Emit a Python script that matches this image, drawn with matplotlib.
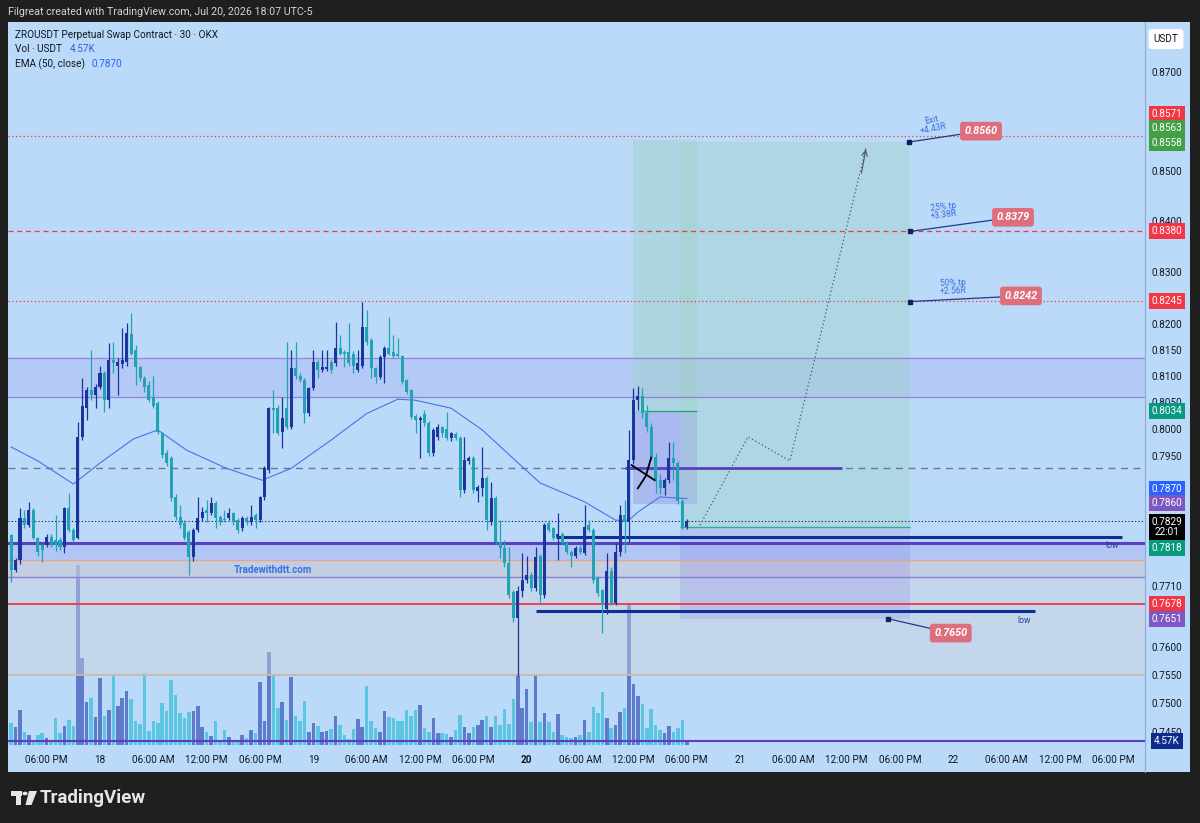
import numpy as np
import pandas as pd
import matplotlib
matplotlib.use("Agg")
import matplotlib.pyplot as plt
from matplotlib.patches import Rectangle, Polygon, Circle
from matplotlib.lines import Line2D
from matplotlib.transforms import blended_transform_factory

plt.rcParams['font.family'] = ['Roboto', 'DejaVu Sans']

# ---------------- data ----------------
times = pd.date_range('2026-07-17 14:00', periods=153, freq='30min')
hours = np.asarray((times - pd.Timestamp('2026-07-18 00:00')) / pd.Timedelta(hours=1))

opens = [
    .7802, .7739, .7757, .7835, .7822, .7849, .7797, .7784, .7784, .7800,
    .7794, .7794, .7780, .7852, .7812, .7797, .7985, .8040, .8073, .8064,
    .8079, .8105, .8054, .8130, .8120, .8122, .8126, .8180, .8150, .8118,
    .8096, .8083, .8060, .8048, .7992, .7955, .7946, .7873, .7836, .7824,
    .7808, .7762, .7812, .7834, .7849, .7843, .7861, .7836, .7832, .7834,
    .7843, .7830, .7815, .7834, .7826, .7839, .7830, .7873, .7923, .8039,
    .8040, .7994, .8039, .8004, .8115, .8101, .8092, .8030, .8077, .8126,
    .8111, .8113, .8126, .8124, .8153, .8145, .8145, .8143, .8111, .8120,
    .8194, .8169, .8115, .8098, .8136, .8153, .8145, .8143, .8139, .8092,
    .8073, .8024, .8017, .8028, .8011, .7955, .7985, .8004, .8000, .7983,
    .7990, .7983, .7886, .7940, .7946, .7884, .7890, .7908, .7826, .7871,
    .7790, .7779, .7751, .7699, .7652, .7700, .7721, .7730, .7706, .7764,
    .7693, .7824, .7815, .7800, .7804, .7789, .7772, .7764, .7779, .7770,
    .7821, .7812, .7724, .7702, .7668, .7737, .7680, .7771, .7839, .7826,
    .7942, .8054, .8062, .8030, .8004, .7948, .7904, .7890, .7904, .7946,
    .7936, .7865, .7818]
highs = [
    .7805, .7760, .7852, .7849, .7863, .7852, .7800, .7786, .7805, .7805,
    .7839, .7800, .7855, .7880, .7815, .8013, .8096, .8080, .8149, .8085,
    .8120, .8110, .8163, .8165, .8135, .8192, .8201, .8220, .8160, .8120,
    .8100, .8090, .8101, .8052, .7995, .7960, .7950, .7878, .7858, .7830,
    .7812, .7815, .7873, .7855, .7867, .7873, .7865, .7840, .7849, .7852,
    .7846, .7834, .7837, .7838, .7858, .7843, .7875, .7930, .8042, .8073,
    .8045, .8060, .8165, .8150, .8165, .8105, .8096, .8080, .8149, .8130,
    .8149, .8149, .8130, .8203, .8178, .8150, .8201, .8147, .8149, .8242,
    .8226, .8172, .8118, .8140, .8158, .8213, .8178, .8172, .8141, .8095,
    .8076, .8028, .8024, .8035, .8015, .8002, .8010, .8005, .8031, .7995,
    .7994, .7986, .7985, .7950, .7950, .7895, .7966, .7912, .7900, .7875,
    .7830, .7794, .7780, .7702, .7710, .7770, .7764, .7735, .7780, .7768,
    .7825, .7830, .7818, .7843, .7808, .7792, .7775, .7782, .7785, .7858,
    .7830, .7815, .7728, .7705, .7770, .7745, .7788, .7858, .7867, .7998,
    .8078, .8081, .8078, .8045, .8011, .7955, .7915, .7908, .7975, .7975,
    .7940, .7870, .7832]
lows = [
    .7717, .7735, .7750, .7815, .7818, .7795, .7765, .7753, .7780, .7780,
    .7773, .7775, .7770, .7808, .7790, .7795, .7980, .8017, .8054, .8040,
    .8075, .8031, .8040, .8105, .8064, .8115, .8120, .8140, .8083, .8090,
    .8070, .8050, .8040, .7990, .7945, .7930, .7865, .7830, .7815, .7793,
    .7730, .7755, .7808, .7828, .7826, .7840, .7815, .7822, .7826, .7830,
    .7822, .7806, .7810, .7822, .7822, .7815, .7826, .7868, .7918, .7992,
    .7988, .7964, .8000, .8000, .8095, .8088, .8011, .8025, .8073, .8096,
    .8108, .8110, .8105, .8120, .8140, .8118, .8120, .8105, .8108, .8115,
    .8160, .8096, .8087, .8094, .8087, .8140, .8135, .8136, .8085, .8065,
    .8018, .7992, .7946, .8005, .7950, .7950, .7980, .7985, .7979, .7978,
    .7979, .7873, .7880, .7935, .7880, .7863, .7875, .7812, .7822, .7786,
    .7760, .7745, .7688, .7645, .7548, .7690, .7716, .7700, .7700, .7678,
    .7688, .7808, .7793, .7757, .7785, .7768, .7745, .7760, .7768, .7766,
    .7808, .7716, .7692, .7625, .7660, .7676, .7676, .7765, .7770, .7790,
    .7935, .8035, .8020, .7995, .7942, .7880, .7878, .7877, .7898, .7904,
    .7860, .7814, .7814]
closes = [
    .7739, .7757, .7835, .7822, .7849, .7797, .7772, .7775, .7800, .7784,
    .7784, .7780, .7852, .7812, .7794, .7985, .8044, .8073, .8064, .8079,
    .8105, .8054, .8130, .8124, .8126, .8130, .8182, .8143, .8118, .8096,
    .8079, .8054, .8044, .7994, .7951, .7936, .7871, .7836, .7821, .7797,
    .7762, .7812, .7834, .7845, .7843, .7861, .7834, .7826, .7830, .7843,
    .7826, .7812, .7834, .7826, .7836, .7830, .7873, .7927, .8039, .8035,
    .7992, .8020, .8004, .8115, .8101, .8092, .8030, .8077, .8126, .8111,
    .8118, .8118, .8111, .8153, .8143, .8143, .8124, .8120, .8124, .8194,
    .8165, .8115, .8098, .8136, .8153, .8143, .8139, .8139, .8088, .8069,
    .8022, .8017, .8021, .8011, .7955, .7998, .8004, .7992, .7983, .7992,
    .7983, .7886, .7942, .7946, .7886, .7892, .7908, .7830, .7871, .7790,
    .7779, .7751, .7693, .7652, .7700, .7721, .7730, .7706, .7762, .7693,
    .7821, .7812, .7797, .7804, .7789, .7772, .7764, .7779, .7772, .7818,
    .7812, .7721, .7697, .7678, .7737, .7680, .7771, .7839, .7826, .7942,
    .8054, .8062, .8030, .8004, .7948, .7904, .7890, .7904, .7946, .7936,
    .7865, .7818, .7829]
volume_k = [
    22, 18, 35, 13, 10, 5, 10, 12, 7, 5, 27, 12, 19, 25, 19,
    180, 87, 43, 47, 28, 67, 29, 35, 69, 39, 47, 54, 46, 24, 21,
    72, 14, 24, 22, 42, 34, 65, 50, 32, 27, 33, 34, 39, 18, 13,
    9, 24, 4, 15, 8, 4, 4, 10, 7, 15, 12, 63, 24, 93, 71,
    37, 43, 25, 68, 29, 24, 44, 13, 22, 19, 13, 14, 16, 29, 20,
    10, 6, 16, 26, 18, 59, 24, 17, 13, 34, 28, 27, 24, 24, 35,
    29, 35,
    40, 17, 13, 27, 12, 12, 11, 8, 15, 30, 18, 12, 18, 20, 25, 29, 18, 29, 20, 36,
    21, 46, 71, 37, 56, 23, 71, 23, 32, 23, 13, 31, 10, 8, 7, 8, 10, 25, 13, 38,
    32, 53, 27, 17, 20, 33, 37, 142, 61, 49, 41, 17, 36, 20, 15, 12, 19, 13, 17, 25,
    4.57]

ema_hours = [-10, -7, -3, 0, 3.75, 6.5, 9.75, 14.25, 18.25, 21.5, 26, 30, 33.5,
             35.5, 39.5, 43, 47.5, 49.5, 54.5, 58, 59.5, 60.5, 63, 66]
ema_vals = [.7966, .7940, .7897, .7936, .7981, .7998, .7960, .7926, .7904, .7926,
            .7979, .8029, .8056, .8054, .8039, .7998, .7929, .7899, .7864, .7830,
            .7830, .7845, .7873, .7870]

tick_hours = list(range(-6, 115, 6))
tick_labels = ['06:00 PM', '18', '06:00 AM', '12:00 PM', '06:00 PM', '19', '06:00 AM',
               '12:00 PM', '06:00 PM', '20', '06:00 AM', '12:00 PM', '06:00 PM', '21',
               '06:00 AM', '12:00 PM', '06:00 PM', '22', '06:00 AM', '12:00 PM', '06:00 PM']
price_ticks = [0.8700, 0.8500, 0.8400, 0.8300, 0.8200, 0.8150, 0.8100, 0.8050, 0.8000,
               0.7950, 0.7710, 0.7600, 0.7550, 0.7500, 0.7450]

# ---------------- style ----------------
BG = '#bbdaf9'
DARK = '#1f1f1f'
UP = '#1a359e'
DOWN = '#22a3b3'
VUP = '#4d6bc2'
VDOWN = '#4cc3df'
TXT = '#131722'
FS = 7.2

W, H = 1200, 823
fig = plt.figure(figsize=(12, 8.23), dpi=100, facecolor=BG)


def fx(x):
    return x / W


def fy(y):
    return 1 - y / H


pos = [fx(8), fy(745), fx(1137), 723 / H]
axv = fig.add_axes(pos, facecolor=BG)
ax = fig.add_axes(pos, facecolor='none')

XL = (-10.35, 117.55)

# volume
o = np.array(opens)
c = np.array(closes)
up = c >= o
axv.bar(hours, volume_k, width=0.4, color=np.where(up, VUP, VDOWN), alpha=0.85, linewidth=0)
axv.set_xlim(*XL)
axv.set_ylim(0, 723)
axv.set_xticks([])
axv.set_yticks([])
for s in axv.spines.values():
    s.set_visible(False)

# price axes
ax.set_yscale('log')
ax.set_xlim(*XL)
ax.set_ylim(0.7427, 0.8803)
for s in ax.spines.values():
    s.set_visible(False)

# zones
ax.axhspan(0.8060, 0.8134, color='#a6b6f0', alpha=0.42, lw=0, zorder=0.5)
ax.axhspan(0.7757, 0.7788, color='#a8b4f0', alpha=0.5, lw=0, zorder=0.5)
ax.axhspan(0.7726, 0.7757, color='#c6cadc', alpha=0.75, lw=0, zorder=0.5)
ax.axhspan(0.7551, 0.7726, color='#cdd3de', alpha=0.45, lw=0, zorder=0.5)

# position boxes
ax.add_patch(Rectangle((60, 0.8034), 7.2, 0.8563 - 0.8034, fc='#9fd0c8', alpha=0.45, lw=0, zorder=0.8))
ax.add_patch(Rectangle((60, 0.7860), 7.2, 0.8034 - 0.7860, fc='#8c7fe0', alpha=0.35, lw=0, zorder=0.8))
ax.add_patch(Rectangle((65.2, 0.7818), 25.9, 0.8558 - 0.7818, fc='#9fd0c8', alpha=0.4, lw=0, zorder=0.8))
ax.add_patch(Rectangle((65.2, 0.7651), 25.9, 0.7818 - 0.7651, fc='#8c7fe0', alpha=0.22, lw=0, zorder=0.8))
ax.hlines(0.8034, 60.8, 67.2, color='#27a87a', lw=1, zorder=2)
ax.hlines(0.7818, 65.2, 91.1, color='#34ad8c', lw=1, zorder=2)

# horizontal levels
ax.axhline(0.8571, color='#f23645', lw=0.9, ls=(0, (1, 2)), zorder=1)
ax.axhline(0.8380, color='#f23645', lw=0.9, ls=(0, (4, 3)), zorder=1)
ax.axhline(0.8245, color='#f23645', lw=0.9, ls=(0, (1, 2)), zorder=1)
ax.axhline(0.8134, color='#9384d8', lw=0.9, zorder=1)
ax.axhline(0.8060, color='#9384d8', lw=0.9, zorder=1)
ax.axhline(0.7926, color='#6c7894', lw=1, ls=(0, (5, 4)), zorder=1)
ax.axhline(0.7829, color=TXT, lw=0.8, ls=(0, (1, 2)), zorder=1)
ax.axhline(0.7788, color='#5a3fc0', lw=2.2, zorder=1)
ax.axhline(0.7757, color='#e0a98a', lw=1, zorder=1)
ax.axhline(0.7726, color='#8d80cf', lw=1, zorder=1)
ax.axhline(0.7678, color='#f23645', lw=1.3, zorder=1)
ax.axhline(0.7551, color='#c9b9a6', lw=1.3, zorder=1)
ax.axhline(0.7434, color='#5a3fc0', lw=1.5, zorder=1)
ax.hlines(0.7926, 59.1, 83.5, color='#5a3fc0', lw=2, zorder=2)
ax.hlines(0.7800, 51.3, 115.0, color='#0d2e96', lw=2.2, zorder=2)
ax.hlines(0.7664, 49.0, 105.2, color='#0d2e96', lw=2.2, zorder=2)

# candles
ax.vlines(hours, lows, highs, colors=np.where(up, UP, DOWN), lw=0.9, zorder=3)
body_lo = np.minimum(o, c)
body_h = np.maximum(np.abs(c - o), 0.00018)
ax.bar(hours, body_h, bottom=body_lo, width=0.34, color=np.where(up, UP, DOWN), lw=0, zorder=3)

# EMA
ax.plot(ema_hours, ema_vals, color='#4a72e6', lw=0.8, zorder=2.5)

# projection path
path_h = [67.5, 72.9, 77.6, 86.2]
path_p = [0.7821, 0.7985, 0.7940, 0.8549]
ax.plot(path_h, path_p, color='#4a5568', lw=0.9, ls=(0, (1, 2)), zorder=2)
ax.annotate('', xy=(path_h[-1], path_p[-1]), xytext=(85.6, 0.8490),
            arrowprops=dict(arrowstyle='->', color='#4a5568', lw=0.8), zorder=2)

# black cross
ax.plot([59.8, 62.4], [0.7932, 0.7904], color='black', lw=1.3, zorder=4)
ax.plot([60.5, 61.4, 62.0], [0.7889, 0.7912, 0.7946], color='black', lw=1.3, zorder=4)

# pointer labels
PINK = '#df6e7d'
pointers = [((91.0, 0.8558), (99.1, 0.8580), '0.8560'),
            ((91.1, 0.8380), (102.7, 0.8408), '0.8379'),
            ((91.1, 0.8243), (103.6, 0.8254), '0.8242'),
            ((88.6, 0.7651), (95.7, 0.7625), '0.7650')]
for (dh, dp), (bh, bp), txt in pointers:
    ax.plot([dh, bh], [dp, bp], color='#1f3a8a', lw=0.9, zorder=5)
    ax.plot(dh, dp, 's', color='#0d2060', ms=2.5, zorder=6)
    ax.text(bh, bp, txt, ha='center', va='center', fontsize=7.8, color='white',
            fontweight='bold', fontstyle='italic', zorder=7,
            bbox=dict(boxstyle='round,pad=0.4,rounding_size=0.25', fc=PINK, ec='none'))

ax.text(93.7, 0.8594, 'Exit\n+4.43R', ha='center', va='center', fontsize=6.2,
        color='#3d6ee0', rotation=12, linespacing=0.9, zorder=6)
ax.text(94.9, 0.8420, '25% tp\n+3.38R', ha='center', va='center', fontsize=6.2,
        color='#3d6ee0', rotation=7, linespacing=0.9, zorder=6)
ax.text(96.0, 0.8271, '50% tp\n+2.56R', ha='center', va='center', fontsize=6.2,
        color='#3d6ee0', rotation=2, linespacing=0.9, zorder=6)
ax.text(113.8, 0.7784, 'low', ha='center', va='center', fontsize=6.2, color='#2a3f8f', zorder=6)
ax.text(104.0, 0.7648, 'low', ha='center', va='center', fontsize=6.2, color='#2a3f8f', zorder=6)
ax.text(19.5, 0.7739, 'Tradewithdtt.com', ha='center', va='center', fontsize=7,
        color='#3570e8', fontweight='bold', zorder=6)

# axis ticks
ax.yaxis.set_minor_locator(matplotlib.ticker.NullLocator())
ax.set_yticks(price_ticks, [f'{p:.4f}' for p in price_ticks])
ax.tick_params(axis='y', which='both', left=False, right=False, labelleft=False,
               labelright=True, length=0, pad=5, labelsize=FS, labelcolor=TXT)
ax.set_xticks(tick_hours, tick_labels)
ax.tick_params(axis='x', length=0, pad=7, labelsize=FS, labelcolor=TXT)
ax.get_xticklabels()[9].set_fontweight('bold')

# price axis labels
tl = blended_transform_factory(ax.transAxes, ax.transData)
axis_labels = [('0.8571', 0.86146, '#f23645'), ('0.8563', 0.85863, '#43a047'),
               ('0.8558', 0.85560, '#43a047'), ('0.8380', 0.8380, '#f23645'),
               ('0.8245', 0.8245, '#f23645'), ('0.8034', 0.8034, '#089981'),
               ('0.7870', 0.78875, '#2962ff'), ('0.7860', 0.78616, '#7e57c2'),
               ('0.7818', 0.77787, '#089981'), ('0.7678', 0.7678, '#f23645'),
               ('0.7651', 0.7651, '#7e57c2'), ('4.57K', 0.7434, '#0d2c8c')]
for txt, p, col in axis_labels:
    ax.text(1.0193, p, txt, transform=tl, ha='center', va='center', fontsize=FS,
            color='white', clip_on=False, zorder=10,
            bbox=dict(boxstyle='square,pad=0.3', fc=col, ec='none'))
ax.text(1.0193, 0.7818, '0.7829\n22:01', transform=tl, ha='center', va='center',
        fontsize=FS, color='white', linespacing=1.05, clip_on=False, zorder=11,
        bbox=dict(boxstyle='square,pad=0.3', fc='black', ec='none'))

# legend
ax.text(fx(15), fy(35), 'ZROUSDT Perpetual Swap Contract · 30 · OKX', transform=fig.transFigure,
        fontsize=FS, color=TXT, va='center')
ax.text(fx(15), fy(49), 'Vol · USDT', transform=fig.transFigure, fontsize=FS, color=TXT, va='center')
ax.text(fx(70), fy(49), '4.57K', transform=fig.transFigure, fontsize=FS, color='#3d5bd9', va='center')
ax.text(fx(15), fy(64), 'EMA (50, close)', transform=fig.transFigure, fontsize=FS, color=TXT, va='center')
ax.text(fx(92), fy(64), '0.7870', transform=fig.transFigure, fontsize=FS, color='#2962ff', va='center')

# frame pieces
fig.add_artist(Line2D([fx(1145)] * 2, [fy(22), fy(772)], transform=fig.transFigure,
                      color='#8ea9cf', lw=0.8))
fig.add_artist(Rectangle((0, fy(22)), 1, 22 / H, transform=fig.transFigure, fc=DARK, ec='none'))
fig.add_artist(Rectangle((0, 0), 1, fy(772), transform=fig.transFigure, fc=DARK, ec='none'))
fig.add_artist(Rectangle((0, 0), fx(8), 1, transform=fig.transFigure, fc=DARK, ec='none'))
fig.add_artist(Rectangle((fx(1190), 0), 1 - fx(1190), 1, transform=fig.transFigure, fc=DARK, ec='none'))
fig.text(fx(8), fy(12), 'Filgreat created with TradingView.com, Jul 20, 2026 18:07 UTC-5',
         fontsize=7.7, color='#d1d4dc', va='center')
fig.text(fx(1166), fy(39), 'USDT', fontsize=FS, color=TXT, ha='center', va='center',
         bbox=dict(boxstyle='round,pad=0.5,rounding_size=0.3', fc='white', ec='none'))

# TradingView logo
logo = '#e6e6e6'
fig.add_artist(Rectangle((fx(11), fy(796)), fx(11), 5 / H, transform=fig.transFigure, fc=logo, ec='none'))
fig.add_artist(Rectangle((fx(16), fy(805)), fx(5), 14 / H, transform=fig.transFigure, fc=logo, ec='none'))
fig.add_artist(Circle((fx(25), fy(793.5)), 2.6 / W, transform=fig.transFigure, fc=logo, ec='none'))
fig.add_artist(Polygon([(fx(29), fy(791)), (fx(37), fy(791)), (fx(31.5), fy(805)), (fx(25.5), fy(805))],
                       closed=True, transform=fig.transFigure, fc=logo, ec='none'))
fig.text(fx(40), fy(798), 'TradingView', fontsize=13.5, color=logo, fontweight='bold', va='center')

fig.savefig('out.png', dpi=100, facecolor=BG)
